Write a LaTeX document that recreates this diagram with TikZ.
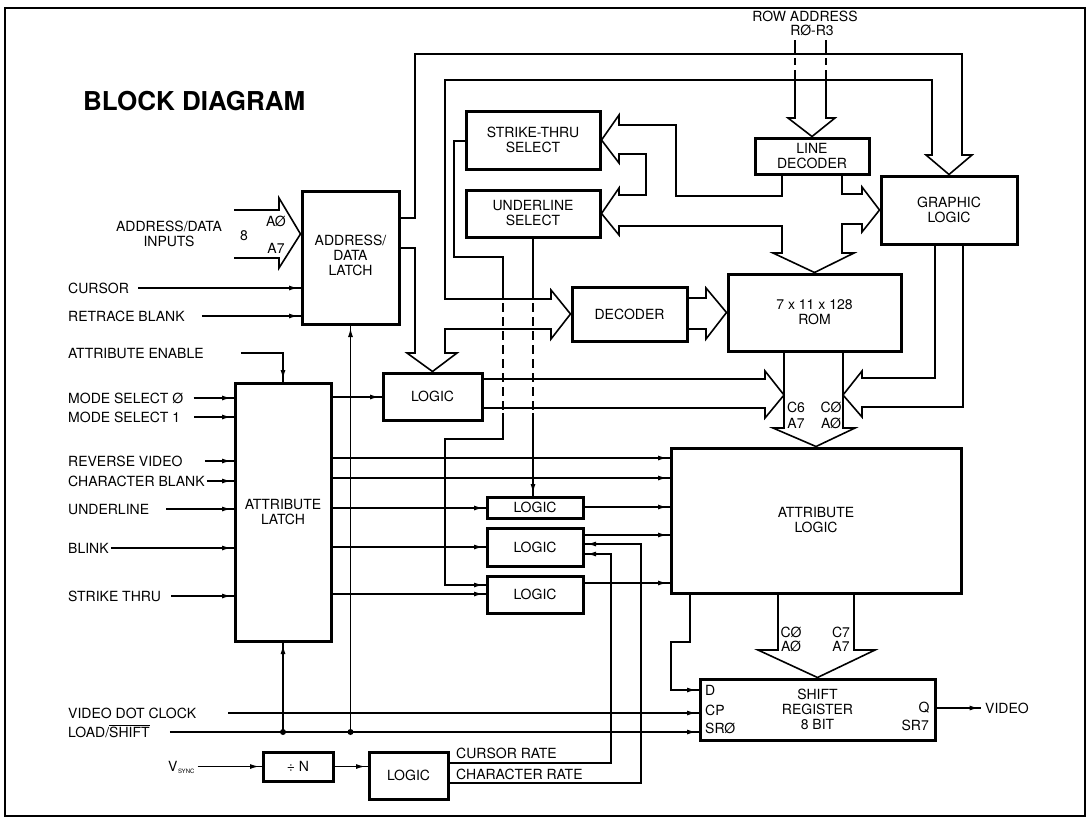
\documentclass[tikz,border=0pt]{standalone}
\usepackage{fontspec}
\setmainfont{TeX Gyre Heros}
\usetikzlibrary{arrows.meta,decorations.markings}
\newcommand{\lblfont}{\fontsize{14pt}{15pt}\selectfont}
\begin{document}
\begin{tikzpicture}[x=1pt,y=-1pt,
  box/.style={draw, line width=3pt, inner sep=0pt, align=center, font=\lblfont},
  wire/.style={line width=1.2pt},
  bus/.style={line width=1.6pt, line join=miter},
  ar/.style={wire, postaction={decorate}, decoration={markings, mark=at position -2.5pt with {\arrow{Latex[length=9pt,width=5pt]}}}},
  lb/.style={inner sep=0pt, font=\lblfont, text height=10pt, text depth=0pt},
  dotnode/.style={circle, fill, inner sep=0pt, minimum size=6pt},
  hidden/.style={line width=1.2pt, dash pattern=on 9pt off 5pt}
]
\useasboundingbox (0,0) rectangle (1089,825);
\draw[line width=2.2pt] (5,8) rectangle (1085,816);
\node[anchor=west, inner sep=0pt, font=\fontsize{26pt}{28pt}\selectfont\bfseries] (title) at (83,101) {BLOCK DIAGRAM};

% ---------- boxes ----------
\node[box, minimum width=97pt, minimum height=133pt] (adl) at (350.5,257.5) {\raisebox{-4pt}{\begin{tabular}{@{}c@{}}ADDRESS/\\DATA\\LATCH\end{tabular}}};
\node[box, minimum width=96pt, minimum height=258pt] (atl) at (283,512) {ATTRIBUTE\\LATCH};
\node[box, minimum width=99pt, minimum height=47pt] (logA) at (432.5,396.5) {LOGIC};
\node[box, minimum width=134pt, minimum height=58pt] (sts) at (533,140) {STRIKE-THRU\\SELECT};
\node[box, minimum width=134pt, minimum height=47pt] (uls) at (533,213.5) {UNDERLINE\\SELECT};
\node[box, minimum width=115pt, minimum height=54pt] (dec) at (629.5,314) {DECODER};
\node[box, minimum width=173pt, minimum height=77pt] (rom) at (814.5,312.5) {7 x 11 x 128\\ROM};
\node[box, minimum width=114pt, minimum height=36pt] (lnd) at (812,156) {LINE\\DECODER};
\node[box, minimum width=136pt, minimum height=68pt] (gfx) at (949,210) {GRAPHIC\\LOGIC};
\node[box, minimum width=290pt, minimum height=145pt] (atlog) at (816,520.5) {ATTRIBUTE\\LOGIC};
\node[box, minimum width=96pt, minimum height=21pt] (logB) at (535,507.5) {LOGIC};
\node[box, minimum width=96pt, minimum height=38pt] (logC) at (535,547) {LOGIC};
\node[box, minimum width=96pt, minimum height=37pt] (logD) at (535,594.5) {LOGIC};
\node[box, minimum width=235pt, minimum height=61pt] (sr) at (817.5,709.5) {SHIFT\\REGISTER\\8 BIT};
\node[box, minimum width=70pt, minimum height=29pt] (divn) at (298,766.5) {÷ N};
\node[box, minimum width=79pt, minimum height=47pt] (logE) at (408.5,775.5) {LOGIC};

% ---------- left labels ----------
\node[inner sep=0pt, font=\lblfont, align=center] (adin) at (169,234) {ADDRESS/DATA\\INPUTS};
\node[lb, anchor=west] (cur) at (68,288) {CURSOR};
\node[lb, anchor=west] (rtb) at (68,316) {RETRACE BLANK};
\node[lb, anchor=west] (aen) at (68,353) {ATTRIBUTE ENABLE};
\node[lb, anchor=west] (ms0) at (68,398) {MODE SELECT Ø};
\node[lb, anchor=west] (ms1) at (68,417) {MODE SELECT 1};
\node[lb, anchor=west] (rvv) at (68,461) {REVERSE VIDEO};
\node[lb, anchor=west] (cbl) at (68,481) {CHARACTER BLANK};
\node[lb, anchor=west] (unl) at (68,509) {UNDERLINE};
\node[lb, anchor=west] (bli) at (68,548) {BLINK};
\node[lb, anchor=west] (stt) at (68,596) {STRIKE THRU};
\node[lb, anchor=west] (vdc) at (68,713) {VIDEO DOT CLOCK};
\node[lb, anchor=west] (lsh) at (68,732) {LOAD/$\overline{\mbox{SHIFT}}$};
\node[lb, anchor=west] (vs) at (168,766.5) {V\kern0.5pt\raisebox{-1.5pt}{\fontsize{6pt}{6pt}\selectfont SYNC}};

% ---------- small bus labels ----------
\node[lb] (n8) at (244,235) {8};
\node[lb] (ia0) at (276,221) {AØ};
\node[lb] (ia7) at (276,248) {A7};
\node[lb] (rowa) at (805,16) {ROW ADDRESS};
\node[lb] (rowr) at (812,30) {RØ-R3};
\node[lb] (rc6) at (796,407) {C6};
\node[lb] (ra7) at (796,423) {A7};
\node[lb] (rc0) at (831,407) {CØ};
\node[lb] (ra0) at (831,423) {AØ};
\node[lb] (sc0) at (791,632) {CØ};
\node[lb] (sa0) at (791,646) {AØ};
\node[lb] (sc7) at (841,632) {C7};
\node[lb] (sa7) at (841,646) {A7};
\node[lb, anchor=west] (pd) at (705,690) {D};
\node[lb, anchor=west] (pcp) at (705,710) {CP};
\node[lb, anchor=west] (psr0) at (705,728) {SRØ};
\node[lb] (pq) at (924,707) {Q};
\node[lb, anchor=east] (psr7) at (929,725) {SR7};
\node[lb, anchor=west] (video) at (985,708) {VIDEO};
\node[lb, anchor=west] (crl) at (456,753) {CURSOR RATE};
\node[lb, anchor=west] (chl) at (456,774) {CHARACTER RATE};

% ---------- buses ----------
\draw[bus] (234,210) -- (279,210) -- (279,198) -- (adl.west |- 0,234) -- (279,268) -- (279,258) -- (234,258);
\draw[bus] (795,40) -- (795,53) (795,58) -- (795,65) (795,70) -- (795,80);
\draw[bus] (826,40) -- (826,53) (826,58) -- (826,65) (826,70) -- (826,80);
\draw[bus] (795,80) -- (795,118) -- (788,118) -- (lnd.north) -- (835,118) -- (826,118) -- (826,80);
\draw[bus] (adl.east |- 0,218) -- (415,218) -- (415,54) -- (962,54) -- (962,155) -- (972,155) -- (gfx.north) -- (926,155) -- (932,155) -- (932,80) -- (445,80) -- (445,299) -- (551,299) -- (551,290) -- (dec.west) -- (551,339) -- (551,329) -- (445,329) -- (445,353) -- (457,353) -- (logA.north) -- (407,353) -- (415,353) -- (415,248) -- (adl.east |- 0,248);
\draw[bus] (dec.east |- 0,298) -- (706,298) -- (706,288) -- (rom.west) -- (706,339) -- (706,329) -- (dec.east |- 0,329);
\draw[bus] (lnd.south -| 782,0) -- (782,196) -- (676,196) -- (676,125) -- (619,125) -- (619,115) -- (sts.east) -- (619,163) -- (619,154) -- (646,154) -- (646,195) -- (619,195) -- (619,188) -- (uls.east) -- (619,235) -- (619,226) -- (782,226) -- (782,253) -- (773,253) -- (rom.north) -- (854,253) -- (842,253) -- (842,224) -- (862,224) -- (862,232) -- (gfx.west) -- (862,187) -- (862,194) -- (842,194) -- (lnd.south -| 842,0);
\draw[bus] (rom.south -| 784,0) -- (784,428) -- (773,428) -- (atlog.north) -- (855,428) -- (843,428) -- (rom.south -| 843,0);
\draw[bus] (logA.east |- 0,379) -- (765,379) -- (765,371) -- (784,395) -- (765,418) -- (765,408) -- (logA.east |- 0,408);
\draw[bus] (gfx.south -| 935,0) -- (935,378) -- (862,378) -- (862,371) -- (843,395) -- (862,417) -- (862,407) -- (963,407) -- (gfx.south -| 963,0);
\draw[bus] (atlog.south -| 778,0) -- (778,650) -- (758,650) -- (sr.north) -- (875,650) -- (854,650) -- (atlog.south -| 854,0);

% ---------- input wires ----------
\draw[ar] ([xshift=9pt]cur.east) -- (adl.west |- cur.east);
\draw[ar] ([xshift=17pt]rtb.east) -- (adl.west |- rtb.east);
\draw[ar] ([xshift=37pt]aen.east) -| (atl.north);
\draw[ar] ([xshift=10pt]ms0.east) -- (atl.west |- ms0.east);
\draw[ar] ([xshift=14pt]ms1.east) -- (atl.west |- ms1.east);
\draw[ar] ([xshift=22pt]rvv.east) -- (atl.west |- rvv.east);
\draw[ar] ([xshift=2pt]cbl.east) -- (atl.west |- cbl.east);
\draw[ar] ([xshift=17pt]unl.east) -- (atl.west |- unl.east);
\draw[ar] ([xshift=2pt]bli.east) -- (atl.west |- bli.east);
\draw[ar] ([xshift=10pt]stt.east) -- (atl.west |- stt.east);
\draw[ar] ([xshift=32pt]vdc.east) -- (sr.west |- vdc.east);
\draw[ar] ([xshift=20pt]lsh.east) -- (sr.west |- lsh.east);
\draw[ar] ([xshift=3pt]vs.east) -- (divn.west);
\draw[ar] (divn.east) -- (logE.west |- divn.east);
\draw[ar] (atl.south |- lsh.east) -- (atl.south);
\draw[ar] (adl.south |- lsh.east) -- (adl.south);
\node[dotnode] (j1) at (atl.south |- lsh.east) {};
\node[dotnode] (j2) at (adl.south |- lsh.east) {};

% ---------- latch outputs ----------
\draw[ar] (atl.east |- 0,397) -- (logA.west |- 0,397);
\draw[ar] (atl.east |- 0,458) -- (atlog.west |- 0,458);
\draw[ar] (atl.east |- 0,478) -- (atlog.west |- 0,478);
\draw[ar] (atl.east |- 0,508) -- (logB.west |- 0,508);
\draw[ar] (atl.east |- 0,547) -- (logC.west |- 0,547);
\draw[ar] (atl.east |- 0,594) -- (logD.west |- 0,594);
\draw[ar] (logB.east |- 0,507) -- (atlog.west |- 0,507);
\draw[ar] (logC.east |- 0,535) -- (atlog.west |- 0,535);
\draw[ar] (logD.east |- 0,583) -- (atlog.west |- 0,583);

% ---------- select wires ----------
\draw[wire] (sts.west |- 0,141) -- (454,141) -- (454,257) -- (503,257) -- (503,289);
\draw[hidden] (503,289) -- (503,413);
\draw[ar] (503,413) -- (503,439) -- (445,439) |- (logD.west |- 0,585);
\draw[wire] (uls.south) -- (533,289);
\draw[hidden] (533,289) -- (533,413);
\draw[ar] (533,413) -- (logB.north -| 533,0);

% ---------- rate wires ----------
\draw[ar] (logE.east |- 0,763) -| (611,554) -- (logC.east |- 0,554);
\draw[ar] (logE.east |- 0,783) -| (641,544) -- (logC.east |- 0,544);

% ---------- shift register ----------
\draw[ar] (atlog.south -| 690,0) -- (690,642) -- (671,642) |- (sr.west |- pd.west);
\draw[ar] (sr.east |- video.west) -- ([xshift=-4pt]video.west);
\end{tikzpicture}
\end{document}
